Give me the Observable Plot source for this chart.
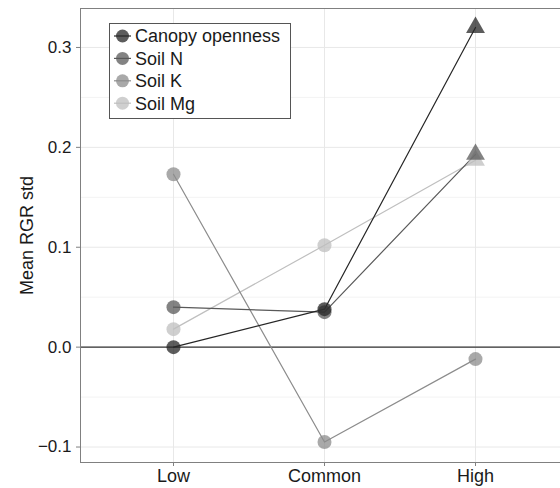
<!DOCTYPE html>
<html>
<head>
<meta charset="utf-8">
<script src="https://cdn.jsdelivr.net/npm/d3@7"></script>
<script src="https://cdn.jsdelivr.net/npm/@observablehq/plot@0.6"></script>
<style>
  html, body { margin: 0; padding: 0; background: #fff; }
  #chart svg { display: block; }
</style>
</head>
<body>
<div id="chart"></div>
<script>
// ---- data ----
const categories = ["Low", "Common", "High"];
const seriesNames = ["Canopy openness", "Soil N", "Soil K", "Soil Mg"];
const canopyOpenness = [0.000, 0.038, 0.320];
const soilN = [0.040, 0.035, 0.193];
const soilK = [0.173, -0.095, -0.012];
const soilMg = [0.018, 0.102, 0.187];
const canopyShape = ["circle", "circle", "triangle"];
const soilNShape = ["circle", "circle", "triangle"];
const soilKShape = ["circle", "circle", "circle"];
const soilMgShape = ["circle", "circle", "triangle"];
const yTicks = [-0.1, 0.0, 0.1, 0.2, 0.3];
const yMinorTicks = [-0.05, 0.05, 0.15, 0.25];
const yLabel = "Mean RGR std";

// ---- styling ----
const seriesColors = ["#262626", "#595959", "#8c8c8c", "#bfbfbf"];
const font = "'Liberation Sans', Arial, Helvetica, sans-serif";

const seriesValues = [canopyOpenness, soilN, soilK, soilMg];
const seriesShapes = [canopyShape, soilNShape, soilKShape, soilMgShape];
const rows = seriesNames.map((name, i) =>
  categories.map((c, j) => ({series: name, category: c, value: seriesValues[i][j], shape: seriesShapes[i][j]}))
);

const drawOrder = [3, 2, 1, 0];

const legendMark = () => {
  const g = d3.create("svg:g");
  g.append("rect")
    .attr("x", 109.5).attr("y", 23.5).attr("width", 181).attr("height", 95)
    .attr("fill", "white").attr("stroke", "#555").attr("stroke-width", 1);
  seriesNames.forEach((name, i) => {
    const cy = 36 + i * 22.4;
    g.append("line").attr("x1", 114).attr("x2", 131).attr("y1", cy).attr("y2", cy)
      .attr("stroke", seriesColors[i]).attr("stroke-width", 1.2);
    g.append("circle").attr("cx", 122.5).attr("cy", cy).attr("r", 6.5)
      .attr("fill", seriesColors[i]).attr("fill-opacity", 0.75);
    g.append("text").attr("x", 135).attr("y", cy).attr("dy", "0.36em")
      .attr("text-anchor", "start")
      .attr("font-size", 18).attr("fill", "#1a1a1a").attr("font-family", font).text(name);
  });
  return g.node();
};

const chart = Plot.plot({
  width: 560,
  height: 488,
  marginLeft: 80,
  marginRight: 0,
  marginTop: 8,
  marginBottom: 26,
  style: {fontFamily: font, background: "#fff", color: "#1a1a1a"},
  x: {type: "point", domain: categories, range: [172, 475.5], padding: 0},
  y: {domain: [-0.1155, 0.339]},
  symbol: {domain: ["circle", "triangle"], range: ["circle", "triangle"]},
  marks: [
    Plot.ruleY(yMinorTicks, {stroke: "#f3f3f3", strokeWidth: 1}),
    Plot.ruleY(yTicks, {stroke: "#e8e8e8", strokeWidth: 1}),
    Plot.ruleX(categories, {x: d => d, stroke: "#e8e8e8", strokeWidth: 1}),
    Plot.ruleY([0], {stroke: "#333", strokeWidth: 1.4}),
    Plot.frame({anchor: "left", stroke: "#808080"}),
    Plot.frame({anchor: "top", stroke: "#808080"}),
    Plot.frame({anchor: "bottom", stroke: "#808080"}),
    Plot.axisY(yTicks, {tickFormat: d3.format(".1f"), tickSize: 4, tickPadding: 5, fontSize: 17, stroke: "#808080", fill: "#1a1a1a", label: null}),
    Plot.axisX(categories, {tickSize: 4, tickPadding: 3, fontSize: 18, stroke: "#808080", fill: "#1a1a1a", label: null}),
    Plot.text([yLabel], {frameAnchor: "left", textAnchor: "middle", rotate: -90, dx: -53, fontSize: 18, fill: "#1a1a1a"}),
    ...drawOrder.map(i => Plot.line(rows[i], {x: "category", y: "value", stroke: seriesColors[i], strokeWidth: 1.2})),
    ...drawOrder.map(i => Plot.dot(rows[i], {x: "category", y: "value", symbol: "shape", fill: seriesColors[i], fillOpacity: 0.75, r: 7})),
    legendMark
  ]
});

document.getElementById("chart").appendChild(chart);
</script>
</body>
</html>
